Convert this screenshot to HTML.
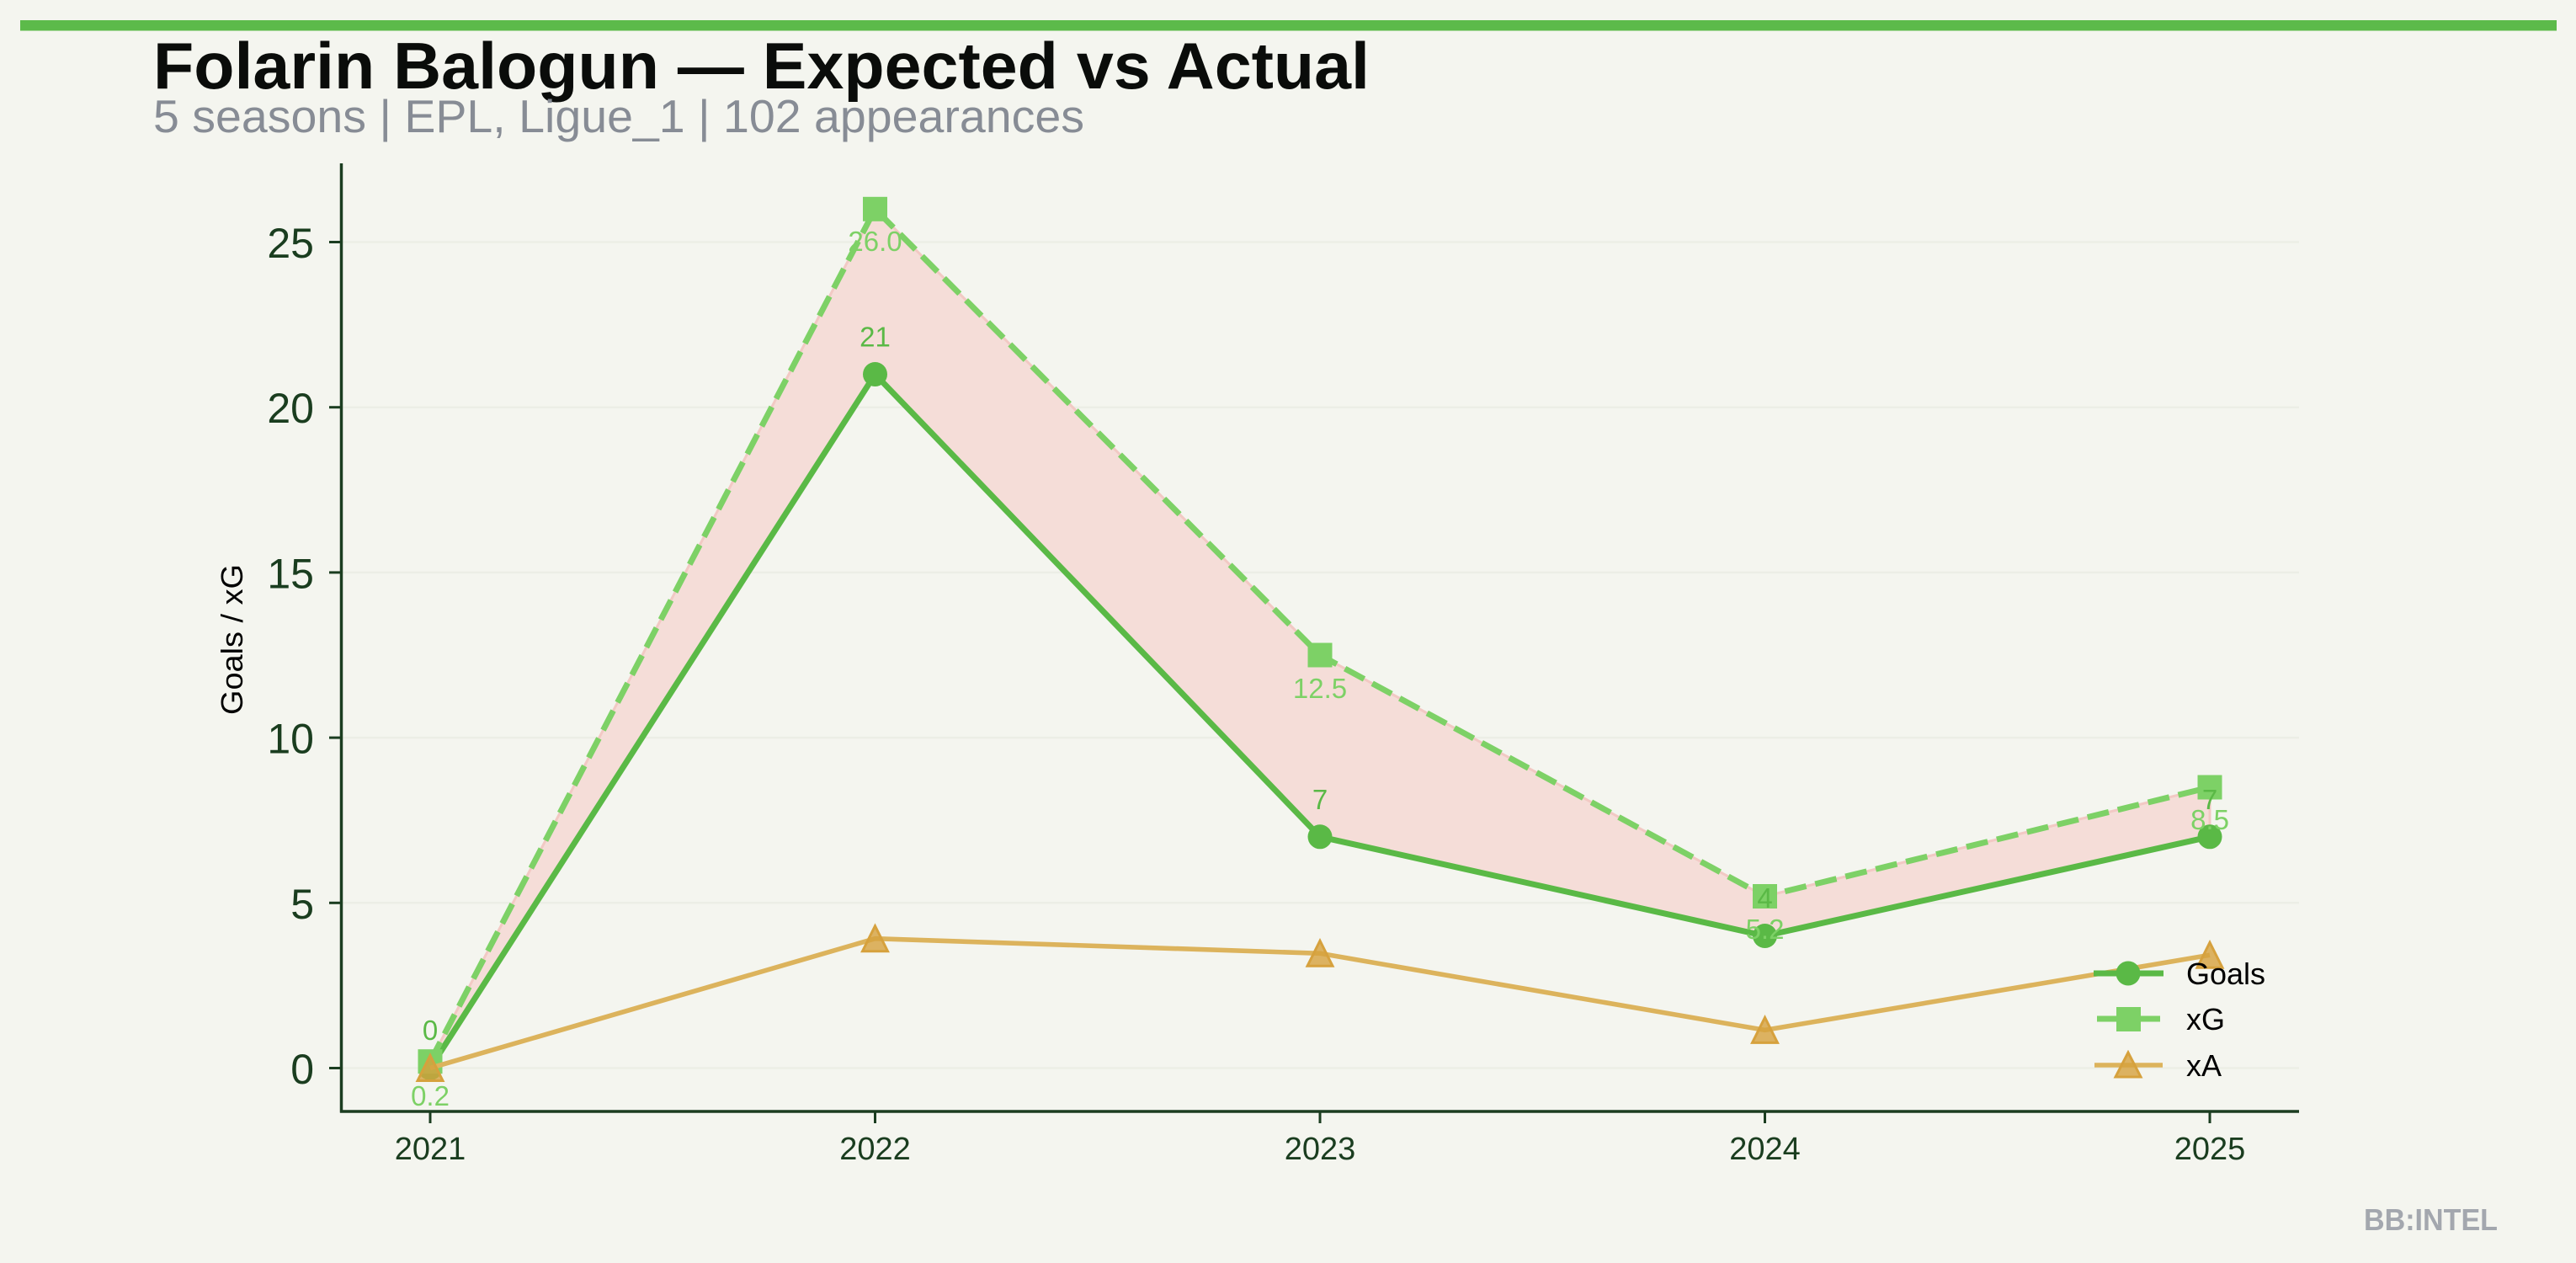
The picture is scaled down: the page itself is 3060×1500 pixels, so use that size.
<!DOCTYPE html>
<html><head><meta charset="utf-8"><style>html,body{margin:0;padding:0;background:#f4f5ef;}svg{display:block;}</style></head>
<body>
<svg width="3060" height="1500" viewBox="0 0 3060 1500" xmlns="http://www.w3.org/2000/svg">
<rect width="3060" height="1500" fill="#f4f5ef"/>
<rect x="24" y="24" width="3013" height="12.5" fill="#5cba4a"/>
<text x="182" y="105" font-family="Liberation Sans, sans-serif" font-weight="bold" font-size="78" fill="#0a0c0a" textLength="1445" lengthAdjust="spacingAndGlyphs">Folarin Balogun — Expected vs Actual</text>
<text x="182" y="157" font-family="Liberation Sans, sans-serif" font-size="55" fill="#878c95" textLength="1106" lengthAdjust="spacingAndGlyphs">5 seasons | EPL, Ligue_1 | 102 appearances</text>
<g stroke="#eceee6" stroke-width="2.5">
<line x1="405" y1="1268.5" x2="2731" y2="1268.5"/>
<line x1="405" y1="1072.3" x2="2731" y2="1072.3"/>
<line x1="405" y1="876.1" x2="2731" y2="876.1"/>
<line x1="405" y1="679.9" x2="2731" y2="679.9"/>
<line x1="405" y1="483.7" x2="2731" y2="483.7"/>
<line x1="405" y1="287.5" x2="2731" y2="287.5"/>
</g>
<polygon points="511,1260.7 1039.5,248.3 1568,778 2096.5,1064.5 2625,935 2625,993.8 2096.5,1111.5 1568,993.8 1039.5,444.5 511,1268.5" fill="#f5ddd8" stroke="#f2c9c4" stroke-width="3"/>
<g stroke="#1b3d20" stroke-width="3.5" fill="none">
<line x1="405.5" y1="194" x2="405.5" y2="1321.5"/>
<line x1="404" y1="1320" x2="2731" y2="1320"/>
</g>
<g stroke="#1b3d20" stroke-width="3">
<line x1="391" y1="1268.5" x2="405" y2="1268.5"/>
<line x1="391" y1="1072.3" x2="405" y2="1072.3"/>
<line x1="391" y1="876.1" x2="405" y2="876.1"/>
<line x1="391" y1="679.9" x2="405" y2="679.9"/>
<line x1="391" y1="483.7" x2="405" y2="483.7"/>
<line x1="391" y1="287.5" x2="405" y2="287.5"/>
<line x1="511" y1="1320" x2="511" y2="1334"/>
<line x1="1039.5" y1="1320" x2="1039.5" y2="1334"/>
<line x1="1568" y1="1320" x2="1568" y2="1334"/>
<line x1="2096.5" y1="1320" x2="2096.5" y2="1334"/>
<line x1="2625" y1="1320" x2="2625" y2="1334"/>
</g>
<g font-family="Liberation Sans, sans-serif" font-size="50" fill="#1a3d1f" text-anchor="end">
<text x="373" y="1287">0</text>
<text x="373" y="1090.8">5</text>
<text x="373" y="894.6">10</text>
<text x="373" y="698.4">15</text>
<text x="373" y="502.2">20</text>
<text x="373" y="306">25</text>
</g>
<g font-family="Liberation Sans, sans-serif" font-size="38" fill="#1a3d1f" text-anchor="middle">
<text x="511" y="1377">2021</text>
<text x="1039.5" y="1377">2022</text>
<text x="1568" y="1377">2023</text>
<text x="2096.5" y="1377">2024</text>
<text x="2625" y="1377">2025</text>
</g>
<text transform="translate(288,759.5) rotate(-90)" font-family="Liberation Sans, sans-serif" font-size="36" fill="#000" text-anchor="middle" textLength="179" lengthAdjust="spacingAndGlyphs">Goals / xG</text>
<!-- Goals -->
<polyline points="511,1268.5 1039.5,444.5 1568,993.8 2096.5,1111.5 2625,993.8" fill="none" stroke="#5ab946" stroke-width="7" stroke-linejoin="round"/>
<g fill="#5ab946">
<circle cx="511" cy="1268.5" r="14.5"/>
<circle cx="1039.5" cy="444.5" r="14.5"/>
<circle cx="1568" cy="993.8" r="14.5"/>
<circle cx="2096.5" cy="1111.5" r="14.5"/>
<circle cx="2625" cy="993.8" r="14.5"/>
</g>
<!-- xG -->
<polyline points="511,1260.7 1039.5,248.3 1568,778 2096.5,1064.5 2625,935" fill="none" stroke="#7dd166" stroke-width="7" stroke-dasharray="26,11"/>
<g fill="#7dd166">
<rect x="496.5" y="1246.2" width="29" height="29"/>
<rect x="1025" y="233.8" width="29" height="29"/>
<rect x="1553.5" y="763.5" width="29" height="29"/>
<rect x="2082" y="1050" width="29" height="29"/>
<rect x="2610.5" y="920.5" width="29" height="29"/>
</g>
<!-- xA -->
<polyline points="511,1268.5 1039.5,1114.7 1568,1132.3 2096.5,1223.4 2625,1134.3" fill="none" stroke="#dcb35c" stroke-width="5.6" stroke-linejoin="round"/>
<g fill="#d6a13d" fill-opacity="0.8" stroke="#d6a13d" stroke-width="3" stroke-linejoin="miter">
<polygon points="511,1253.5 496,1283.5 526,1283.5"/>
<polygon points="1039.5,1099.7 1024.5,1129.7 1054.5,1129.7"/>
<polygon points="1568,1117.3 1553,1147.3 1583,1147.3"/>
<polygon points="2096.5,1208.4 2081.5,1238.4 2111.5,1238.4"/>
<polygon points="2625,1119.3 2610,1149.3 2640,1149.3"/>
</g>
<!-- annotations -->
<g font-family="Liberation Sans, sans-serif" font-size="33" text-anchor="middle">
<g fill="#5ab946">
<text x="511" y="1235">0</text>
<text x="1039.5" y="411.5">21</text>
<text x="1568" y="960.8">7</text>
<text x="2096.5" y="1078">4</text>
<text x="2625" y="960.8">7</text>
</g>
<g fill="#7dd166">
<text x="511" y="1313">0.2</text>
<text x="1039.5" y="298">26.0</text>
<text x="1568" y="829">12.5</text>
<text x="2096.5" y="1115">5.2</text>
<text x="2625" y="985">8.5</text>
</g>
</g>
<!-- legend -->
<line x1="2487" y1="1156" x2="2570" y2="1156" stroke="#5ab946" stroke-width="7"/>
<circle cx="2528" cy="1156" r="14.5" fill="#5ab946"/>
<line x1="2491" y1="1210" x2="2566" y2="1210" stroke="#7dd166" stroke-width="7"/>
<rect x="2514" y="1196" width="29" height="29" fill="#7dd166"/>
<line x1="2488" y1="1265" x2="2569" y2="1265" stroke="#dcb35c" stroke-width="5.6"/>
<polygon points="2528,1250 2513,1279 2543,1279" fill="#d6a13d" fill-opacity="0.8" stroke="#d6a13d" stroke-width="3"/>
<g font-family="Liberation Sans, sans-serif" font-size="36" fill="#000">
<text x="2597" y="1169">Goals</text>
<text x="2597" y="1223">xG</text>
<text x="2597" y="1278">xA</text>
</g>
<text x="2808" y="1461" font-family="Liberation Sans, sans-serif" font-weight="bold" font-size="36" fill="#a3a7ae" textLength="159" lengthAdjust="spacingAndGlyphs">BB:INTEL</text>
</svg>
</body></html>
